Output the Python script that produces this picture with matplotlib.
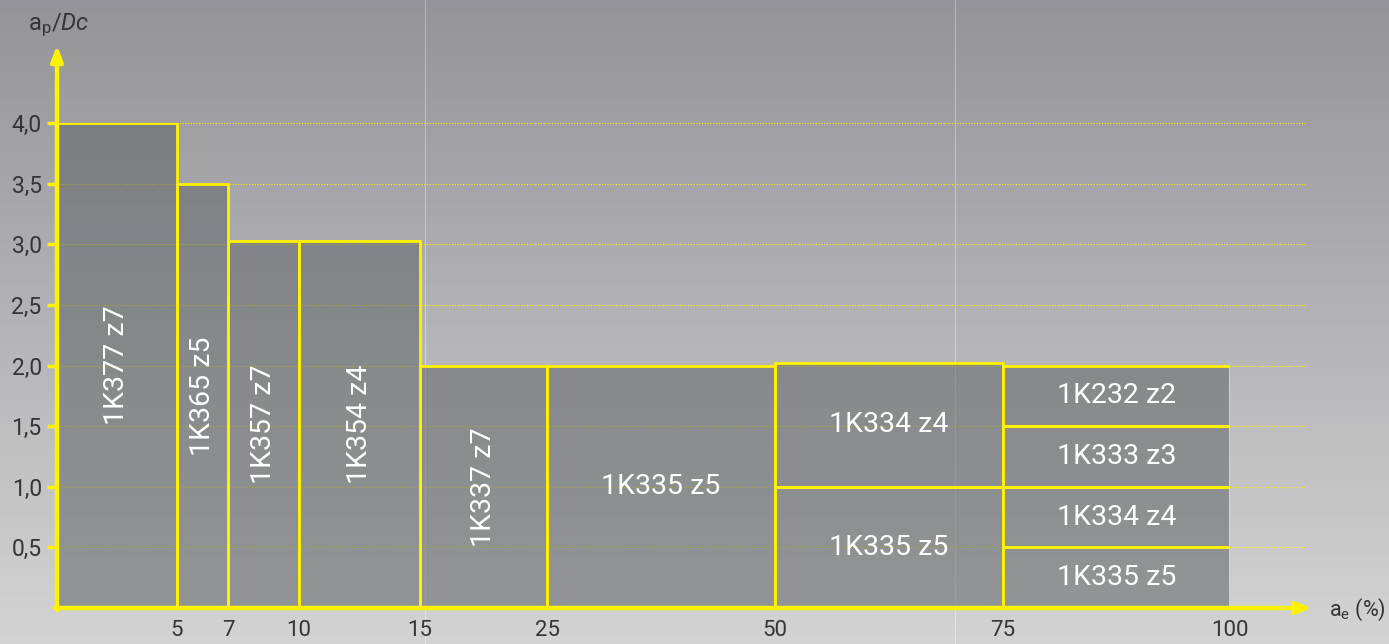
import numpy as np
import matplotlib.pyplot as plt
from matplotlib.patches import Rectangle

plt.rcParams['font.family'] = ['Roboto', 'DejaVu Sans']
plt.rcParams['mathtext.fontset'] = 'custom'
plt.rcParams['mathtext.rm'] = 'Roboto'
plt.rcParams['mathtext.it'] = 'Roboto:italic'

# x axis is non-linear: breakpoints and their relative spacing on screen
edges = [0, 5, 7, 10, 15, 25, 50, 75, 100]
edge_pos = [0, 120, 171, 242, 363, 490, 718, 946, 1173]

# tool areas: a_e range, a_p/Dc range, name
x0 = [0, 5, 7, 10, 15, 25, 50, 50, 75, 75, 75, 75]
x1 = [5, 7, 10, 15, 25, 50, 75, 75, 100, 100, 100, 100]
y0 = [0, 0, 0, 0, 0, 0, 1.0, 0, 1.5, 1.0, 0.5, 0]
y1 = [4.0, 3.5, 3.03, 3.03, 2.0, 2.0, 2.02, 1.0, 2.0, 1.5, 1.0, 0.5]
names = ['1K377 z7', '1K365 z5', '1K357 z7', '1K354 z4', '1K337 z7',
         '1K335 z5', '1K334 z4', '1K335 z5',
         '1K232 z2', '1K333 z3', '1K334 z4', '1K335 z5']
vertical = [True, True, True, True, True, False, False, False, False, False, False, False]

yticks = [0.5, 1.0, 1.5, 2.0, 2.5, 3.0, 3.5, 4.0]
ytick_labels = ['0,5', '1,0', '1,5', '2,0', '2,5', '3,0', '3,5', '4,0']
xticks = [5, 7, 10, 15, 25, 50, 75, 100]

YEL = '#fff200'
TXT = '#353537'


def fwd(x):
    return np.interp(x, edges, edge_pos)


def inv(p):
    return np.interp(p, edge_pos, edges)


fig = plt.figure(figsize=(13.89, 6.44), dpi=100)

# gradient background
bg = fig.add_axes([0, 0, 1, 1], zorder=0)
grad = np.linspace(0, 1, 256)[:, None]
top = np.array([0.58, 0.58, 0.60])
bot = np.array([0.83, 0.83, 0.83])
img = top[None, None, :] * (1 - grad[:, :, None]) + bot[None, None, :] * grad[:, :, None]
bg.imshow(img, aspect='auto', extent=[0, 1, 0, 1])
bg.axvline(425 / 1389, color='white', lw=0.8, alpha=0.35)
bg.axvline(955 / 1389, color='white', lw=0.8, alpha=0.35)
bg.set_axis_off()

ax = fig.add_axes([57 / 1389, 36 / 644, 1173 / 1389, 485 / 644], zorder=1)
ax.patch.set_alpha(0)
ax.set_xscale('function', functions=(fwd, inv))
ax.set_xlim(0, 100)
ax.set_ylim(0, 4)

# dotted grid lines
for y in yticks:
    ax.plot([0, 1.064], [y, y], transform=ax.get_yaxis_transform(),
            color=YEL, lw=0.8, ls=(0, (1, 1.5)), clip_on=False, zorder=1)

for a, b, c, d, name, vert in zip(x0, x1, y0, y1, names, vertical):
    ax.add_patch(Rectangle((a, c), b - a, d - c, facecolor=(0.37, 0.39, 0.40),
                           alpha=0.54, edgecolor='none', zorder=2))
    ax.add_patch(Rectangle((a, c), b - a, d - c, facecolor='none',
                           edgecolor=YEL, lw=2.0, zorder=3))
    xm = inv((fwd(a) + fwd(b)) / 2)
    ax.text(xm, (c + d) / 2, name, rotation=90 if vert else 0,
            ha='center', va='center', color='white', fontsize=20.5,
            zorder=4)

for s in ax.spines.values():
    s.set_visible(False)

# axis arrows
ax.annotate('', xy=(0, 1.16), xytext=(0, -0.004), xycoords='axes fraction',
            arrowprops=dict(arrowstyle='-|>,head_length=0.9,head_width=0.35',
                            color=YEL, lw=3.2, shrinkA=0, shrinkB=0), zorder=5)
ax.annotate('', xy=(1.07, 0), xytext=(-0.002, 0), xycoords='axes fraction',
            arrowprops=dict(arrowstyle='-|>,head_length=0.9,head_width=0.35',
                            color=YEL, lw=3.2, shrinkA=0, shrinkB=0), zorder=5)

ax.set_yticks(yticks)
ax.set_yticklabels(ytick_labels)
ax.tick_params(axis='y', length=7, width=2.5, color=YEL, pad=4,
               labelsize=16.5, labelcolor=TXT)
ax.set_xticks(xticks)
ax.set_xticklabels([str(t) for t in xticks])
ax.xaxis.set_minor_locator(plt.NullLocator())
ax.tick_params(axis='x', length=0, pad=9, labelsize=16, labelcolor=TXT)

fig.text(28 / 1389, 1 - 25 / 644, r'$\mathrm{a}_\mathrm{p}/Dc$', fontsize=17,
         color=TXT, ha='left', va='center')
fig.text(1386 / 1389, 1 - 610 / 644, r'$\mathrm{a}_\mathrm{e}$ (%)', fontsize=15.5,
         color=TXT, ha='right', va='center')

fig.savefig('out.png', dpi=100)
